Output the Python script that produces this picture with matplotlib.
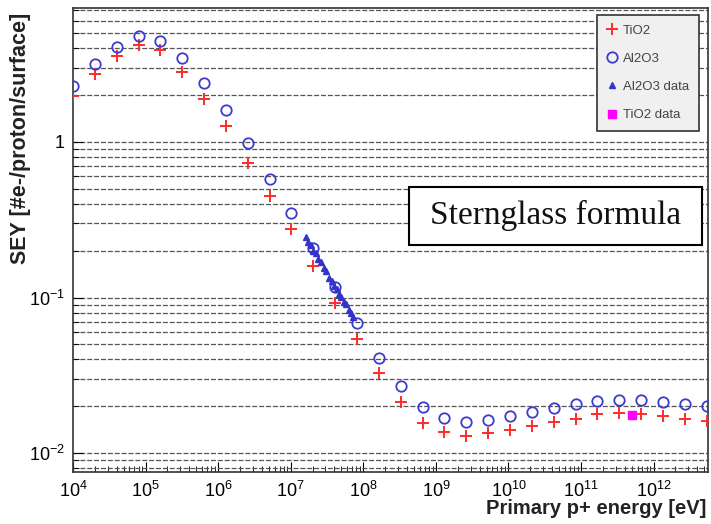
import numpy as np
import matplotlib.pyplot as plt
from matplotlib.ticker import LogLocator, FixedLocator, FuncFormatter, NullFormatter
from matplotlib.patches import Rectangle

plt.rcParams['font.family'] = ['Liberation Sans', 'DejaVu Sans']
plt.rcParams['mathtext.fontset'] = 'custom'
plt.rcParams['mathtext.rm'] = 'Liberation Sans'
plt.rcParams['mathtext.default'] = 'regular'

# primary proton energies [eV] used by the Sternglass curves
energy = [1e4, 2e4, 4e4, 8e4, 1.6e5, 3.2e5, 6.4e5, 1.28e6, 2.56e6, 5.12e6,
          1.02e7, 2.05e7, 4.1e7, 8.2e7, 1.64e8, 3.28e8, 6.55e8, 1.31e9, 2.62e9, 5.24e9,
          1.05e10, 2.1e10, 4.19e10, 8.39e10, 1.68e11, 3.36e11, 6.71e11, 1.34e12, 2.68e12, 5.37e12]

sey_tio2 = [1.98, 2.74, 3.57, 4.2, 3.9, 2.82, 1.89, 1.27, 0.73, 0.45,
            0.275, 0.16, 0.092, 0.054, 0.0327, 0.0213, 0.0156, 0.0136, 0.0129, 0.0134,
            0.0141, 0.0149, 0.0159, 0.0166, 0.0178, 0.018, 0.0178, 0.0174, 0.0166, 0.016]

sey_al2o3 = [2.29, 3.17, 4.08, 4.8, 4.46, 3.46, 2.4, 1.6, 0.99, 0.578,
             0.349, 0.208, 0.117, 0.069, 0.041, 0.027, 0.0198, 0.0168, 0.0159, 0.0163,
             0.0173, 0.0183, 0.0195, 0.0207, 0.0216, 0.022, 0.022, 0.0214, 0.0207, 0.020]

# measured Al2O3 data
e_al2o3_data = [1.6e7, 1.75e7, 1.9e7, 2.05e7, 2.2e7, 2.4e7, 2.6e7, 2.85e7, 3.1e7, 3.4e7,
                3.7e7, 4.0e7, 4.3e7, 4.6e7, 5.0e7, 5.4e7, 5.8e7, 6.3e7, 6.8e7, 7.3e7]
sey_al2o3_data = [0.245, 0.226, 0.216, 0.200, 0.192, 0.177, 0.169, 0.155, 0.147, 0.134,
                  0.128, 0.119, 0.114, 0.106, 0.101, 0.094, 0.091, 0.083, 0.080, 0.075]

# measured TiO2 data
e_tio2_data = [5.0e11]
sey_tio2_data = [0.0176]

x_ticks = [1e4, 1e5, 1e6, 1e7, 1e8, 1e9, 1e10, 1e11, 1e12]
y_ticks = [1e-2, 1e-1, 1]

fig = plt.figure(figsize=(7.11, 5.24), dpi=100)
ax = fig.add_axes([0.1027, 0.099, 0.893, 0.886])

ax.plot(energy, sey_tio2, '+', color='#ff2a2a', ms=8, mew=1.4, label='TiO2', zorder=3)
ax.plot(energy, sey_al2o3, 'o', mfc='none', mec='#3b3bd0', ms=7.5, mew=1.3, label='Al2O3', zorder=3)
ax.plot(e_al2o3_data, sey_al2o3_data, '^', color='#3434c8', ms=5, label='Al2O3 data', zorder=4)
ax.plot(e_tio2_data, sey_tio2_data, 's', color='#ff00ff', ms=6, label='TiO2 data', zorder=4)

ax.set_xscale('log')
ax.set_yscale('log')
ax.set_xlim(1e4, 5.6e12)
ax.set_ylim(0.00755, 7.27)

ax.xaxis.set_major_locator(FixedLocator(x_ticks))
ax.yaxis.set_major_locator(FixedLocator(y_ticks))
ax.xaxis.set_minor_locator(LogLocator(base=10, subs=np.arange(2, 10), numticks=50))
ax.yaxis.set_minor_locator(LogLocator(base=10, subs=np.arange(2, 10), numticks=50))
ax.xaxis.set_minor_formatter(NullFormatter())
ax.yaxis.set_minor_formatter(NullFormatter())


def fmt(v, pos):
    n = int(round(np.log10(v)))
    if n == 0:
        return '1'
    return '$10^{%d}$' % n


ax.xaxis.set_major_formatter(FuncFormatter(fmt))
ax.yaxis.set_major_formatter(FuncFormatter(fmt))

ax.tick_params(which='both', direction='in', top=False, right=False, labelsize=13)
ax.tick_params(which='major', length=7)
ax.tick_params(which='minor', length=4)
ax.tick_params(axis='x', pad=6)
ax.tick_params(axis='y', pad=6)

ax.yaxis.grid(True, which='both', linestyle=(0, (4, 1.5)), color='#555555', lw=0.9)
ax.xaxis.grid(False)
ax.set_axisbelow(True)

for s in ax.spines.values():
    s.set_color('#333333')
    s.set_linewidth(1.2)

ax.set_xlabel('Primary p+ energy [eV]', fontsize=14.5, fontweight='bold', color='#222222')
ax.xaxis.set_label_coords(0.997, -0.058)
ax.xaxis.label.set_horizontalalignment('right')
ax.xaxis.label.set_verticalalignment('top')
ax.set_ylabel('SEY [#e-/proton/surface]', fontsize=15.5, fontweight='bold', color='#222222')
ax.yaxis.set_label_coords(-0.083, 0.99)
ax.yaxis.label.set_verticalalignment('center')
ax.yaxis.label.set_horizontalalignment('right')

leg = ax.legend(loc='upper right', bbox_to_anchor=(0.986, 0.985), borderaxespad=0,
                fontsize=9.5, labelspacing=1.2, handletextpad=0.4, handlelength=0.8,
                fancybox=False, framealpha=1, borderpad=0.75)
leg.get_frame().set_facecolor('#f0f0f0')
leg.get_frame().set_edgecolor('#333333')
leg.get_frame().set_linewidth(1.2)
for t in leg.get_texts():
    t.set_color('#444444')

box = Rectangle((0.529, 0.489), 0.462, 0.125, transform=ax.transAxes,
                facecolor='white', edgecolor='black', lw=1.5, zorder=5)
ax.add_patch(box)
ax.text(0.76, 0.552, 'Sternglass formula', transform=ax.transAxes, ha='center', va='center',
        fontsize=24, family='Liberation Serif', color='#111111', zorder=6)

fig.savefig('out.png', dpi=100)
